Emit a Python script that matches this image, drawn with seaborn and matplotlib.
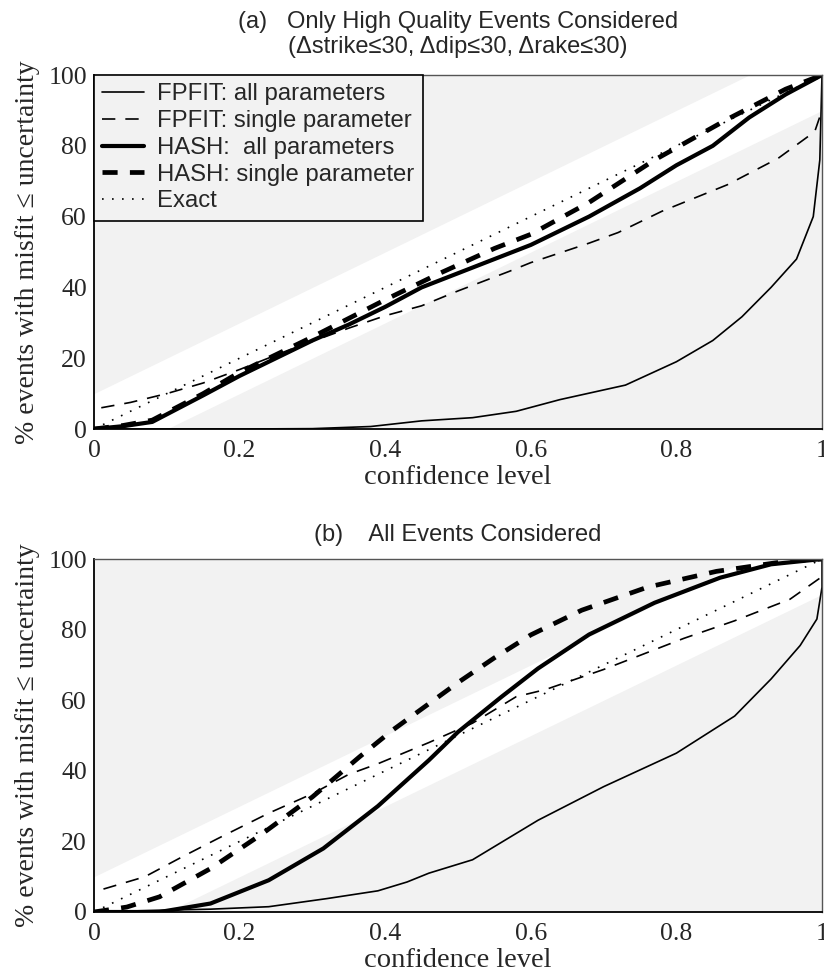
import matplotlib
matplotlib.use('Agg')
import matplotlib.pyplot as plt
import seaborn as sns

# ---- data ----
# panel (a): only high quality events
fp_all_a_x = [0, 0.1, 0.2, 0.3, 0.38, 0.45, 0.52, 0.58, 0.64, 0.73, 0.8, 0.85, 0.89, 0.93, 0.965, 0.988, 0.997, 1.0]
fp_all_a_y = [0, 0, 0, 0.1, 0.7, 2.3, 3.2, 5, 8.3, 12.4, 19, 25, 31.7, 40, 48, 60, 76, 100]

fp_single_a_x = [0.01, 0.05, 0.1, 0.15, 0.2, 0.27, 0.35, 0.4, 0.45, 0.5, 0.57, 0.6, 0.68, 0.72, 0.78, 0.87, 0.94, 0.99, 1.0]
fp_single_a_y = [6, 7.5, 10, 13, 16.8, 22.5, 28.5, 32, 34.8, 39, 44.5, 47, 52.5, 55.5, 61.5, 69, 76.5, 84, 90]

hash_all_a_x = [0, 0.04, 0.08, 0.15, 0.2, 0.3, 0.35, 0.4, 0.45, 0.5, 0.6, 0.68, 0.75, 0.8, 0.85, 0.9, 0.95, 1.0]
hash_all_a_y = [0, 0.8, 2, 9.5, 15, 25, 29.5, 34.5, 40, 44, 52, 60, 68, 74.5, 80, 88, 94.5, 100]

hash_single_a_x = [0, 0.04, 0.08, 0.15, 0.2, 0.3, 0.4, 0.475, 0.55, 0.6, 0.68, 0.77, 0.87, 0.95, 1.0]
hash_single_a_y = [0, 1, 2.5, 10, 16, 26, 36.5, 44, 51, 55, 64, 76, 87.5, 96, 100]

# panel (b): all events
fp_all_b_x = [0, 0.09, 0.16, 0.24, 0.32, 0.39, 0.43, 0.46, 0.52, 0.61, 0.7, 0.8, 0.88, 0.93, 0.97, 0.993, 1.0, 1.0]
fp_all_b_y = [0, 0.5, 0.8, 1.5, 3.8, 6, 8.5, 11, 14.8, 26, 35.5, 45, 55.5, 66, 75.5, 83, 92, 100]

fp_single_b_x = [0.013, 0.07, 0.12, 0.17, 0.24, 0.3, 0.35, 0.39, 0.46, 0.52, 0.58, 0.62, 0.7, 0.81, 0.88, 0.956, 1.0]
fp_single_b_y = [6.5, 10, 15.5, 20.8, 28, 33.5, 39, 42, 48, 53.5, 61, 63, 68.7, 77.5, 82.5, 88.6, 95]

hash_all_b_x = [0, 0.09, 0.16, 0.24, 0.315, 0.39, 0.46, 0.5, 0.56, 0.61, 0.68, 0.77, 0.86, 0.93, 1.0]
hash_all_b_y = [0, 0, 2.4, 9, 18, 30, 43, 51, 61, 69, 78.6, 87.6, 94.7, 98.5, 100]

hash_single_b_x = [0, 0.045, 0.09, 0.16, 0.23, 0.3, 0.365, 0.41, 0.45, 0.5, 0.55, 0.6, 0.67, 0.76, 0.855, 0.956, 1.0]
hash_single_b_y = [0, 1.4, 4.3, 12.3, 22, 32.6, 44, 51.5, 57.5, 65, 72, 78.5, 85.5, 92, 96.5, 99.5, 100]

# exact calibration line and the white band around it
exact_x = [0, 1]
exact_y = [0, 100]
band_x = [0, 1]
band_lo = [-10, 90]
band_hi = [10, 110]

labels = ['FPFIT: all parameters', 'FPFIT: single parameter',
          'HASH:  all parameters', 'HASH: single parameter', 'Exact']
x_ticks = [0, 0.2, 0.4, 0.6, 0.8, 1]
x_tick_labels = ['0', '0.2', '0.4', '0.6', '0.8', '1']
y_ticks = [0, 20, 40, 60, 80, 100]

sns.set_style('ticks')
plt.rcParams['font.family'] = ['Liberation Serif', 'DejaVu Serif']
SANS = ['Liberation Sans', 'DejaVu Sans']
BG = '#f2f2f2'

styles = [
    dict(linewidth=1.2, linestyle='-'),
    dict(linewidth=1.2, linestyle=(0, (8, 6))),
    dict(linewidth=3.0, linestyle='-'),
    dict(linewidth=3.4, linestyle=(0, (3.2, 2.6))),
    dict(linewidth=1.2, linestyle=(0, (1, 5))),
]


def draw_panel(ax, series, title, pad, legend):
    ax.set_facecolor(BG)
    ax.fill_between(band_x, band_lo, band_hi, color='white', lw=0, zorder=0)
    for (xs, ys), st in zip(series, styles):
        sns.lineplot(x=xs, y=ys, ax=ax, color='k', estimator=None, sort=False, **st)
    ax.set_xlim(0, 1)
    ax.set_ylim(0, 100)
    ax.set_xticks(x_ticks)
    ax.set_xticklabels(x_tick_labels)
    ax.set_yticks(y_ticks)
    ax.tick_params(length=0, labelsize=18.5)
    ax.tick_params(axis='x', pad=8)
    ax.tick_params(axis='y', pad=5)
    ax.set_xlabel('confidence level', fontsize=20.5, labelpad=2)
    ax.set_ylabel('% events with misfit \u2264 uncertainty', fontsize=20, labelpad=6)
    ax.set_title(title, fontsize=17, family=SANS, pad=pad, linespacing=1.15)
    for side in ['left', 'bottom']:
        ax.spines[side].set_color('k')
        ax.spines[side].set_linewidth(1.3)
    for side in ['top', 'right']:
        ax.spines[side].set_color('#555555')
        ax.spines[side].set_linewidth(1.0)
    if legend:
        leg = ax.legend(ax.lines[:5], labels, loc='upper left', borderaxespad=0,
                        fancybox=False, edgecolor='k', facecolor=BG, framealpha=1,
                        prop=dict(family=SANS, size=17.2), handlelength=1.75,
                        handletextpad=0.55, labelspacing=0.2, borderpad=0.35)
        leg.get_frame().set_linewidth(1.2)


fig = plt.figure(figsize=(8.24, 9.76), dpi=100)
ax_a = fig.add_axes([94 / 824, 1 - 429 / 976, 728 / 824, 354 / 976])
ax_b = fig.add_axes([94 / 824, 1 - 912 / 976, 728 / 824, 353 / 976])

draw_panel(ax_a, [(fp_all_a_x, fp_all_a_y), (fp_single_a_x, fp_single_a_y),
                  (hash_all_a_x, hash_all_a_y), (hash_single_a_x, hash_single_a_y),
                  (exact_x, exact_y)],
           '(a)   Only High Quality Events Considered\n'
           '(\u0394strike\u226430, \u0394dip\u226430, \u0394rake\u226430)', 16, True)
draw_panel(ax_b, [(fp_all_b_x, fp_all_b_y), (fp_single_b_x, fp_single_b_y),
                  (hash_all_b_x, hash_all_b_y), (hash_single_b_x, hash_single_b_y),
                  (exact_x, exact_y)],
           '(b)    All Events Considered', 13, False)

fig.savefig('out.png', dpi=100)
